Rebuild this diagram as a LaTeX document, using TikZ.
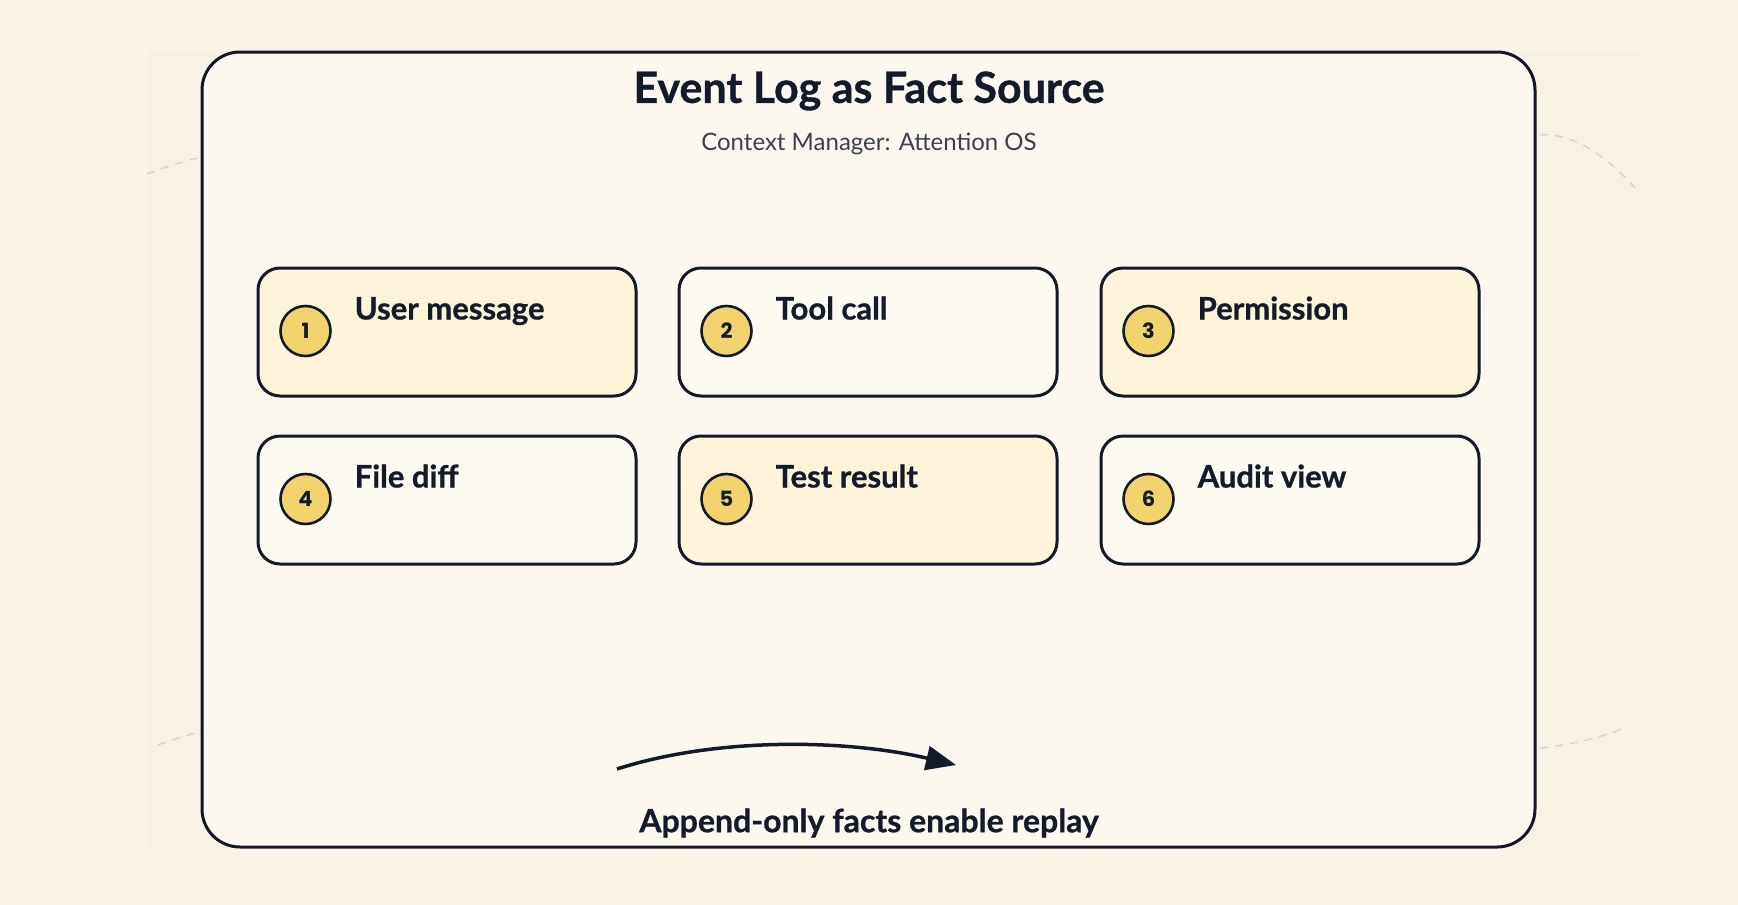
\documentclass[tikz,border=0pt]{standalone}
\usepackage{fontspec}
\setmainfont{Lato}
\newfontfamily\heavyfont{Lato Bold}[FakeBold=0.8]
\newfontfamily\numfont{Poppins}
\usetikzlibrary{arrows.meta}
\definecolor{pagebg}{HTML}{FBF4E8}
\definecolor{panelbg}{HTML}{F8F1E5}
\definecolor{framebg}{HTML}{FCF8EF}
\definecolor{ink}{HTML}{131A2A}
\definecolor{subink}{HTML}{3A404C}
\definecolor{warmbox}{HTML}{FDF4DA}
\definecolor{paleBox}{HTML}{FDFAF2}
\definecolor{badge}{HTML}{F2D36E}
\definecolor{dashgray}{HTML}{D6D1C9}
\tikzset{
  x=1pt,y=-1pt,
  card/.style={draw=ink!95!black,line width=3pt,rounded corners=22pt,minimum width=378pt,minimum height=128pt,inner sep=0pt},
  warm/.style={card,fill=warmbox},
  pale/.style={card,fill=paleBox},
  badgenode/.style={circle,draw=ink,line width=2.6pt,fill=badge,minimum size=50pt,inner sep=0pt,font=\fontsize{21}{21}\numfont\bfseries,text=ink},
  cardlabel/.style={anchor=base west,font=\fontsize{31}{31}\heavyfont,text=ink,inner sep=0pt},
  deco/.style={draw=dashgray,line width=1.3pt,dash pattern=on 8pt off 7pt},
}
\begin{document}
\begin{tikzpicture}
\useasboundingbox (0,0) rectangle (1738,905);
\fill[pagebg] (0,0) rectangle (1738,905);
\fill[panelbg] (147,51) rectangle (1640,848);
% decorative dashed arcs
\draw[deco] (147,174) .. controls (165,167) and (185,161) .. (202,157);
\draw[deco] (158,745) .. controls (172,740) and (188,735) .. (202,731);
\draw[deco] (1540,135) .. controls (1575,132) and (1610,160) .. (1635,188);
\draw[deco] (1540,748) .. controls (1570,745) and (1600,738) .. (1624,728);
% frame
\node[draw=ink!90!black,line width=3pt,fill=framebg,rounded corners=38pt,minimum width=1333pt,minimum height=795pt,inner sep=0pt] (frame) at (868.5,449.5) {};
\node[font=\fontsize{43}{43}\heavyfont,text=ink] (title) at (869,91) {Event Log as Fact Source};
\node[font=\fontsize{24}{24}\selectfont,text=subink] (subtitle) at (869,144) {Context Manager: Attention OS};
% cards
\node[warm] (b1) at (447,332) {};
\node[pale] (b2) at (868,332) {};
\node[warm] (b3) at (1290,332) {};
\node[pale] (b4) at (447,500) {};
\node[warm] (b5) at (868,500) {};
\node[pale] (b6) at (1290,500) {};
\foreach \i/\t in {1/User message,2/Tool call,3/Permission,4/File diff,5/Test result,6/Audit view}{
  \node[badgenode] (c\i) at ([xshift=49pt,yshift=1pt]b\i.west) {\i};
  \node[cardlabel] (l\i) at ([xshift=98pt,yshift=-53pt]b\i.north west) {\t};
}
% arrow
\coordinate (a0) at (617,769);
\coordinate (a1) at (956,765);
\draw[ink,line width=3.5pt,-{Triangle[length=30pt,width=24pt]}] (a0) .. controls (720,736) and (850,740) .. (a1);
\node[font=\fontsize{32}{32}\heavyfont,text=ink] (caption) at (869,823) {Append-only facts enable replay};
\end{tikzpicture}
\end{document}
